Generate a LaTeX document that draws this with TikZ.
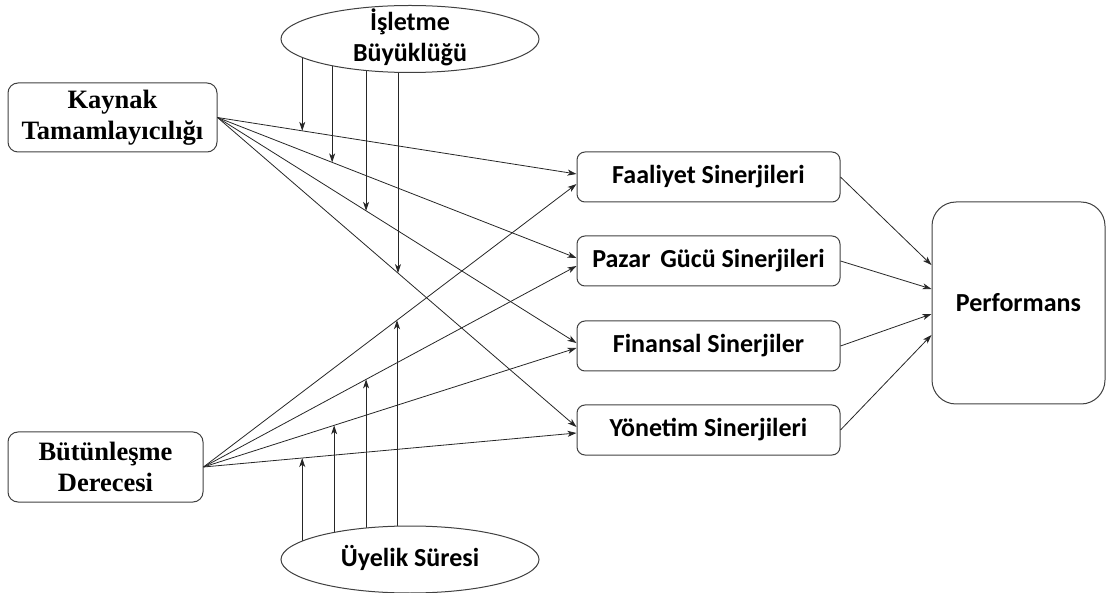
\documentclass[tikz,border=0pt]{standalone}
\usepackage{fontspec}
\setmainfont{Liberation Serif}
\newfontfamily\calibri{Carlito}
\usetikzlibrary{arrows.meta,calc,backgrounds,shapes.geometric}

\begin{document}
\begin{tikzpicture}[x=1pt,y=-1pt,
  every node/.style={inner sep=0pt, align=center},
  srcbox/.style={draw=black!75, line width=1pt, rounded corners=10pt,
    font=\fontsize{26.5}{31}\selectfont\bfseries},
  synbox/.style={draw=black!75, line width=1pt, rounded corners=8pt,
    minimum width=263pt, minimum height=50pt,
    font=\calibri\fontsize{26}{30}\selectfont\bfseries},
  outbox/.style={draw=black!75, line width=1pt, rounded corners=24pt,
    minimum width=173pt, minimum height=202pt,
    font=\calibri\fontsize{26}{30}\selectfont\bfseries},
  modell/.style={ellipse, draw=black!75, line width=1pt, fill=white,
    minimum width=258pt, minimum height=67pt},
  modtext/.style={font=\calibri\fontsize{26}{31}\selectfont\bfseries},
  arr/.style={draw=black!85, line width=0.8pt,
    -{Stealth[length=9pt,width=6pt,inset=2.5pt]}},
]
\useasboundingbox (0,0) rectangle (1106,593);

% independent variables
\node[srcbox, minimum width=209pt, minimum height=69pt] (kt) at (112.5,117.5)
  {Kaynak\\Tamamlayıcılığı};
\node[srcbox, minimum width=195pt, minimum height=70pt] (bd) at (105.5,467)
  {Bütünleşme\\Derecesi};

% synergy types
\node[synbox] (fs) at (708.5,177) {Faaliyet Sinerjileri};
\node[synbox] (ps) at (708.5,261) {Pazar\hspace{4pt} Gücü Sinerjileri};
\node[synbox] (fn) at (708.5,346) {Finansal Sinerjiler};
\node[synbox] (ys) at (708.5,430) {Yönetim Sinerjileri};

% outcome
\node[outbox] (pf) at (1018.5,303) {Performans};

% moderators
\node[modell] (tb) at (410,39) {};
\node[modtext] (tbt) at (410,37) {İşletme\\Büyüklüğü};
\node[modell] (ub) at (410,559.5) {};
\node[modtext] (ubt) at (410,558) {Üyelik Süresi};

% paths from resource complementarity
\draw[arr] (kt.east) -- coordinate[pos=0.2361] (k1) ($(fs.west)+(0,-3)$);
\draw[arr] (kt.east) -- coordinate[pos=0.3194] (k2) ($(ps.west)+(0,-3)$);
\draw[arr] (kt.east) -- coordinate[pos=0.4139] (k3) ($(fn.west)+(0,-3)$);
\draw[arr] (kt.east) -- coordinate[pos=0.5028] (k4) ($(ys.west)+(0,-3)$);

% paths from integration degree
\draw[arr] (bd.east) -- coordinate[pos=0.5187] (b4) ($(fs.west)+(0,7)$);
\draw[arr] (bd.east) -- coordinate[pos=0.4358] (b3) ($(ps.west)+(0,5)$);
\draw[arr] (bd.east) -- coordinate[pos=0.3503] (b2) ($(fn.west)+(0,2)$);
\draw[arr] (bd.east) -- coordinate[pos=0.2647] (b1) ($(ys.west)+(0,3)$);

% moderating effects
\begin{scope}[on background layer]
  \draw[arr] (k1 |- tb.center) -- (k1);
  \draw[arr] (k2 |- tb.center) -- (k2);
  \draw[arr] (k3 |- tb.center) -- (k3);
  \draw[arr] (k4 |- tb.center) -- (k4);
  \draw[arr] (b1 |- ub.center) -- (b1);
  \draw[arr] (b2 |- ub.center) -- (b2);
  \draw[arr] (b3 |- ub.center) -- (b3);
  \draw[arr] (b4 |- ub.center) -- (b4);
\end{scope}

% synergies to performance
\draw[arr] (fs.east) -- ($(pf.west)+(0,-38)$);
\draw[arr] (ps.east) -- ($(pf.west)+(0,-14)$);
\draw[arr] (fn.east) -- ($(pf.west)+(0,11)$);
\draw[arr] (ys.east) -- ($(pf.west)+(0,32)$);
\end{tikzpicture}
\end{document}
